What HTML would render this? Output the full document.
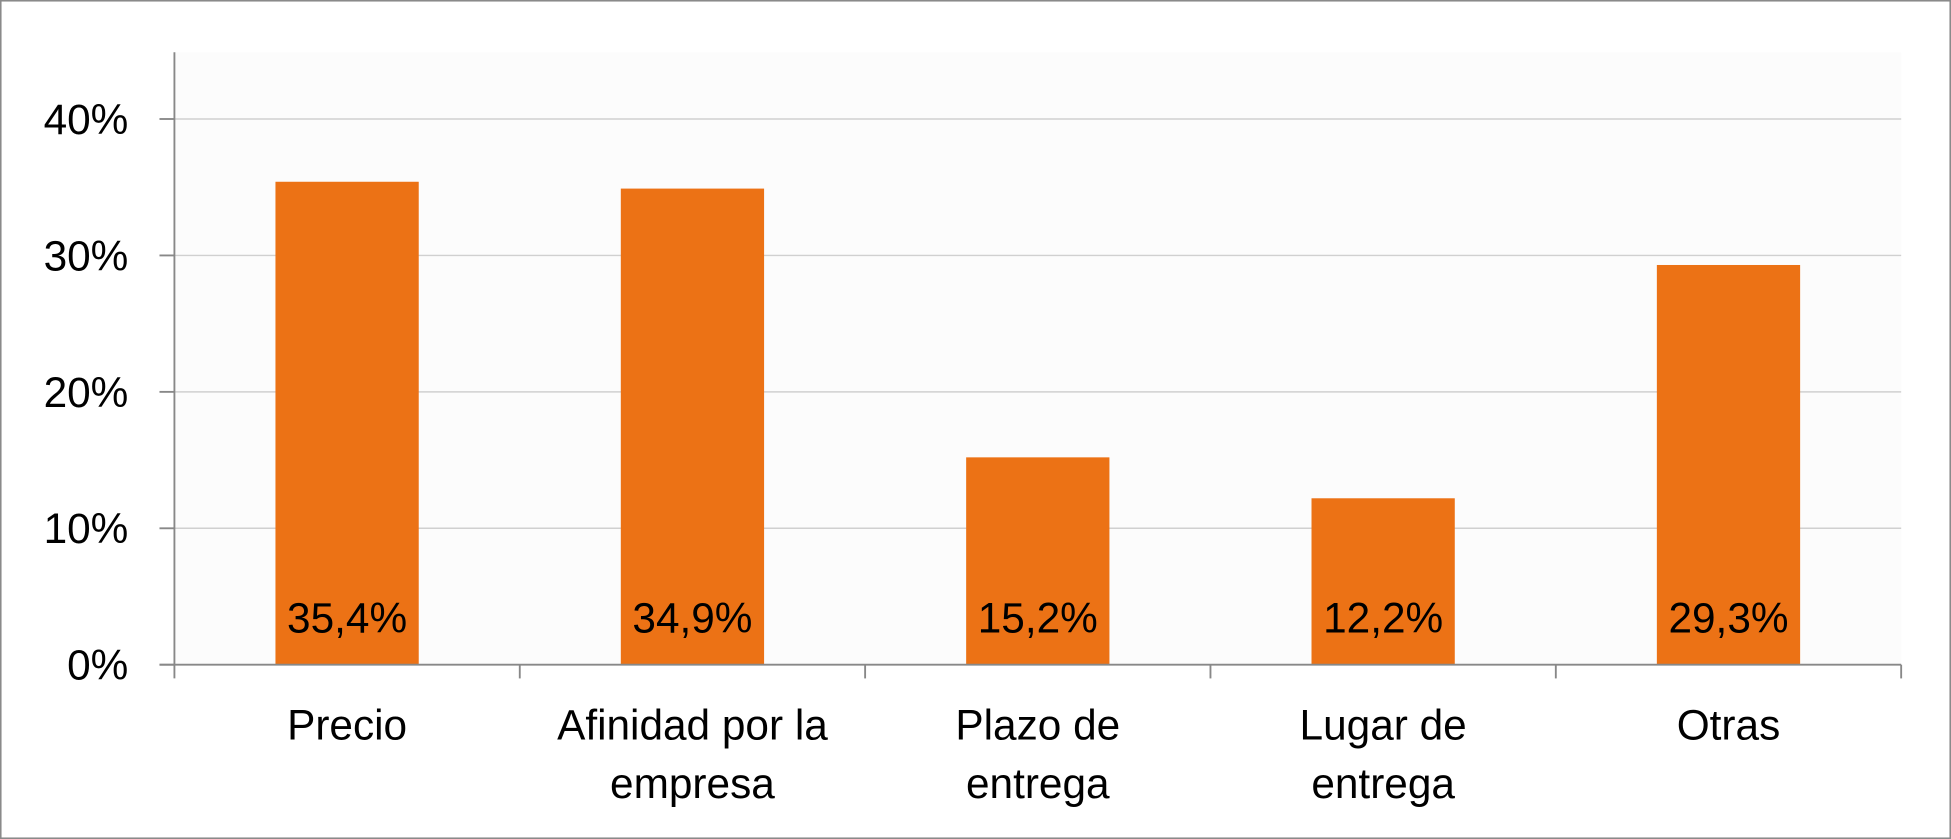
<!DOCTYPE html>
<html><head><meta charset="utf-8"><style>
html,body{margin:0;padding:0;background:#fff;}
svg{display:block;font-family:"Liberation Sans",sans-serif;}
</style></head><body>
<svg id="chart" width="1951" height="839" viewBox="0 0 1566 674" preserveAspectRatio="none">
<rect x="0.5" y="0.5" width="1565" height="673" fill="#fff" stroke="#8a8a8a" stroke-width="1.5"/>
<rect x="140" y="42" width="1386" height="492" fill="#fcfcfc"/>
<g id="grid"></g>
<g id="bars"></g>
<g id="axes"></g>
</svg>
<script>
const categories = [["Precio"],["Afinidad por la","empresa"],["Plazo de","entrega"],["Lugar de","entrega"],["Otras"]];
const values = [35.4, 34.9, 15.2, 12.2, 29.3];
const valueLabels = ["35,4%","34,9%","15,2%","12,2%","29,3%"];
const yTicks = [0,10,20,30,40];
const yTickLabels = ["0%","10%","20%","30%","40%"];
const NS="http://www.w3.org/2000/svg";
const x0=140,x1=1526,yZero=534,yPer10=109.6;
const y=v=>yZero-v*yPer10/10;
const band=(x1-x0)/categories.length;
const xc=i=>x0+band*(i+0.5);
function mk(tag,attrs,parent){const e=document.createElementNS(NS,tag);for(const k in attrs)e.setAttribute(k,attrs[k]);parent.appendChild(e);return e;}
const grid=document.getElementById('grid'),bars=document.getElementById('bars'),axes=document.getElementById('axes');
yTicks.forEach((t,i)=>{
  if(t>0){const l=mk('line',{x1:x0,x2:x1,y1:y(t),y2:y(t),stroke:'#d0d0d0','stroke-width':1.2},grid);
  
  }
  const tx=mk('text',{x:103,y:y(t)+12,'text-anchor':'end','font-size':34,fill:'#000'},axes);
  tx.textContent=yTickLabels[i];
  
  
});
const bw=115;
values.forEach((v,i)=>{
  const r=mk('rect',{x:xc(i)-bw/2,y:y(v),width:bw,height:yZero-y(v),fill:'#ec7215'},bars);
  
  
  const t=mk('text',{x:xc(i),y:508,'text-anchor':'middle','font-size':34,fill:'#000'},bars);
  t.textContent=valueLabels[i];
  
  
  categories[i].forEach((line,j)=>{
    const c=mk('text',{x:xc(i),y:594+j*47,'text-anchor':'middle','font-size':34,fill:'#000'},axes);
    c.textContent=line;
    
    
  });
});
const ya=mk('line',{x1:x0,x2:x0,y1:42,y2:545,stroke:'#888','stroke-width':1.5},axes);


const xa=mk('line',{x1:128,x2:x1,y1:yZero,y2:yZero,stroke:'#888','stroke-width':1.5},axes);


yTicks.forEach(t=>{const k=mk('line',{x1:128,x2:x0,y1:y(t),y2:y(t),stroke:'#888','stroke-width':1.5},axes);

});
for(let i=1;i<=categories.length;i++){const k=mk('line',{x1:x0+band*i,x2:x0+band*i,y1:yZero,y2:545,stroke:'#888','stroke-width':1.5},axes);

}
</script>
</body></html>
